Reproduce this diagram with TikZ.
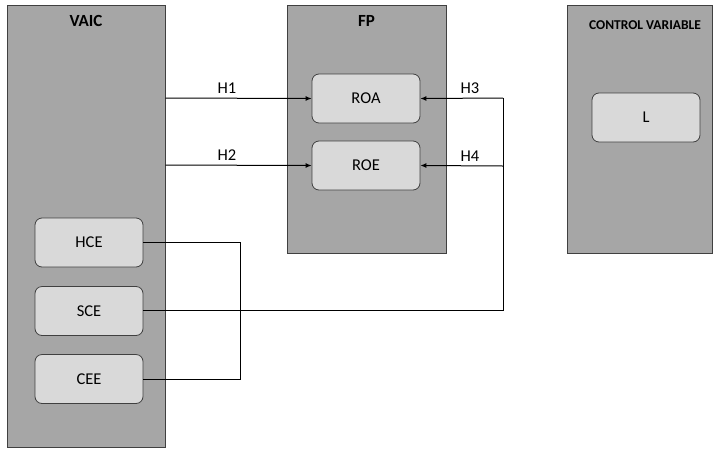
\documentclass[tikz,border=0pt]{standalone}
\usepackage{fontspec}
\setmainfont{Carlito}
\usetikzlibrary{arrows.meta}
\definecolor{outerfill}{HTML}{A6A6A6}
\definecolor{innerfill}{HTML}{D9D9D9}
\definecolor{edgegray}{HTML}{404040}
\tikzset{
  groupbox/.style={draw=edgegray, line width=0.8pt, fill=outerfill},
  varbox/.style={draw=edgegray, line width=0.8pt, fill=innerfill, rounded corners=7pt,
    minimum width=108pt, minimum height=49pt, inner sep=0pt, font=\fontsize{16.5}{19}\selectfont},
  grouptitle/.style={font=\bfseries\fontsize{17}{20}\selectfont, inner sep=0pt},
  conn/.style={draw=black, line width=1pt},
  arr/.style={conn, -{Latex[length=6pt,width=5pt]}},
  hlabel/.style={font=\fontsize{16.5}{19}\selectfont, inner sep=0pt}
}
\begin{document}
\begin{tikzpicture}[x=1pt,y=-1pt]
\useasboundingbox (0,0) rectangle (718,448);
% group boxes
\draw[groupbox] (7,5) rectangle (165.5,447);
\coordinate (vaicE1) at (165.5,98);
\coordinate (vaicE2) at (165.5,165);
\draw[groupbox] (287,5) rectangle (446.5,253);
\draw[groupbox] (567,5) rectangle (712.5,253);
\node[grouptitle] (tvaic) at (86,21) {VAIC};
\node[grouptitle] (tfp) at (366.5,21) {FP};
\node[grouptitle, font=\bfseries\fontsize{13.5}{16}\selectfont] (tcv) at (645,25) {CONTROL VARIABLE};
% inner boxes
\node[varbox] (roa) at (366,98.5) {ROA};
\node[varbox] (roe) at (366,165.5) {ROE};
\node[varbox] (l) at (646,117.5) {L};
\node[varbox] (hce) at (89,242.5) {HCE};
\node[varbox] (sce) at (89,311) {SCE};
\node[varbox] (cee) at (89,379) {CEE};
% right-side junction
\coordinate (rtop) at (503,98);
\coordinate (rmid) at (503,166);
\coordinate (rbot) at (503,310);
\coordinate (jtop) at (240,242.5);
\coordinate (jbot) at (240,379);
% H1, H2
\draw[arr] (vaicE1) -- (roa.west) node[hlabel, pos=0.42, above=4pt] (h1) {H1};
\draw[arr] (vaicE2) -- (roe.west) node[hlabel, pos=0.42, above=4pt] (h2) {H2};
% H3, H4
\draw[arr] (rtop) -- (roa.east) node[hlabel, pos=0.4, above=4pt] (h3) {H3};
\draw[arr] (rmid) -- (roe.east) node[hlabel, pos=0.4, above=4pt] (h4) {H4};
\draw[conn] (rtop) -- (rbot) -- (rbot -| sce.east);
% bracket
\draw[conn] (hce.east) -- (jtop) -- (jbot) -- (cee.east);
\end{tikzpicture}
\end{document}
